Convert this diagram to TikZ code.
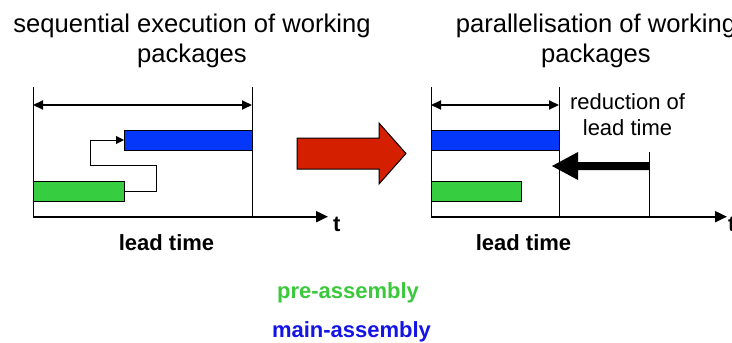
\documentclass[tikz,border=0pt]{standalone}
\usepackage{fontspec}
\setmainfont{Liberation Sans}
\usetikzlibrary{arrows.meta}
\definecolor{barblue}{RGB}{5,55,250}
\definecolor{bargreen}{RGB}{55,205,65}
\definecolor{arrred}{RGB}{212,32,0}
\definecolor{txtgreen}{RGB}{60,200,60}
\definecolor{txtblue}{RGB}{20,20,230}
\tikzset{
  bar/.style={draw=black, line width=0.9pt, inner sep=0pt, outer sep=0pt, anchor=north west},
  thin/.style={line width=1pt},
  axis/.style={line width=2pt, -{Triangle[length=12pt,width=11pt]}},
  span/.style={line width=2pt, {Triangle[length=10pt,width=9pt]}-{Triangle[length=10pt,width=9pt]}},
  link/.style={line width=1pt, -{Triangle[length=8pt,width=8pt]}},
  title/.style={font=\fontsize{25.6}{30}\selectfont, align=center, inner sep=0pt, anchor=north},
  bold/.style={font=\fontsize{22}{26}\selectfont\bfseries, inner sep=0pt, anchor=base},
  plain/.style={font=\fontsize{22}{26}\selectfont, align=center, inner sep=0pt, anchor=north}
}
\begin{document}
\begin{tikzpicture}[x=1pt, y=-1pt]
\useasboundingbox (0,0) rectangle (732,343);
\clip (0,0) rectangle (732,343);

% titles
\node[title] (t1) at (192,14) {sequential execution of working\\packages};
\node[title] (t2) at (596,14) {parallelisation of working\\packages};

% ---- left panel: sequential ----
\coordinate (lo) at (33,216.7);
\coordinate (lt) at (33,87);
\coordinate (lrb) at (252,216.7);
\coordinate (lrt) at (252,87);
\coordinate (lax) at (328,216.7);
\draw[thin] (lt) -- (lo);
\draw[thin] (lrt) -- (lrb);
\coordinate (ls1) at (33,105);
\coordinate (ls2) at (252,105);
\draw[span] (ls1) -- (ls2);
\node[bar, fill=barblue, minimum width=128pt, minimum height=20pt] (lb) at (124,130) {};
\node[bar, fill=bargreen, minimum width=91pt, minimum height=20pt] (lg) at (33,181) {};
\coordinate (c1) at (156.7,191);
\coordinate (c2) at (156.7,165.7);
\coordinate (c3) at (90,165.7);
\draw[link] (lg.east) -- (c1) -- (c2) -- (c3) |- (lb.west);
\draw[axis] (lo) -- (lax);
\node[bold, anchor=base west] (tl) at (333,231) {t};
\node[bold] (ll) at (166.5,250) {lead time};

% ---- transition arrow ----
\draw[fill=arrred, line width=1pt, line join=miter]
  (297,138) -- (379,138) -- (379,123) -- (406,153.5) -- (379,184) -- (379,169) -- (297,169) -- cycle;

% ---- right panel: parallel ----
\coordinate (ro) at (431,216.7);
\coordinate (rt) at (431,87);
\coordinate (rmb) at (559,216.7);
\coordinate (rmt) at (559,87);
\coordinate (rrb) at (649,216.7);
\coordinate (rrt) at (649,152);
\coordinate (rax) at (727,216.7);
\draw[thin] (rt) -- (ro);
\draw[thin] (rmt) -- (rmb);
\draw[thin] (rrt) -- (rrb);
\coordinate (rs1) at (431,105);
\coordinate (rs2) at (559,105);
\draw[span] (rs1) -- (rs2);
\node[bar, fill=barblue, minimum width=128pt, minimum height=20pt] (rb) at (431,130) {};
\node[bar, fill=bargreen, minimum width=90pt, minimum height=20pt] (rg) at (431,181) {};
% reduction arrow
\fill (649,162) -- (578,162) -- (578,152) -- (552,166) -- (578,180) -- (578,170) -- (649,170) -- cycle;
\draw[axis] (ro) -- (rax);
\node[bold, anchor=base west] (tr) at (728,231) {t};
\node[bold] (lr) at (523.5,250) {lead time};
\node[plain] (red) at (627.5,93) {reduction of\\lead time};

% legend
\node[bold, text=txtgreen] (pre) at (348,298) {pre-assembly};
\node[bold, text=txtblue] (main) at (351.5,337) {main-assembly};
\end{tikzpicture}
\end{document}
